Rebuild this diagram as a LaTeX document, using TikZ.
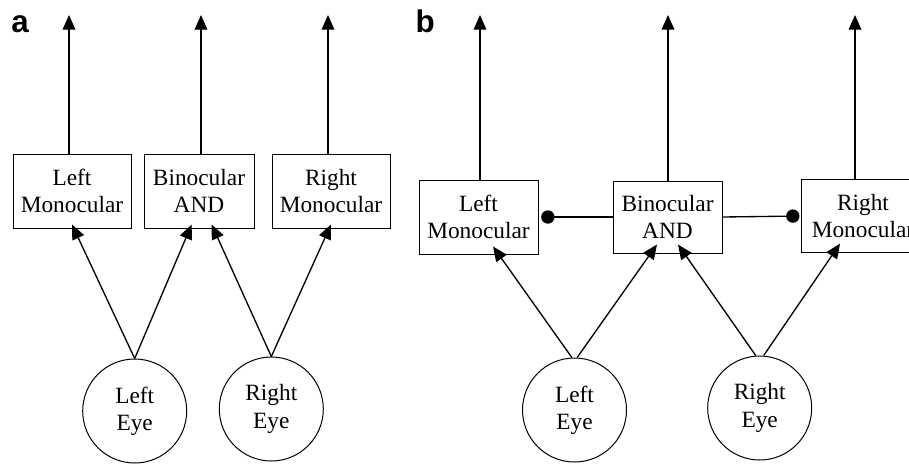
\documentclass[tikz,border=0pt]{standalone}
\usepackage{fontspec}
\setmainfont{Liberation Serif}
\setsansfont{Liberation Sans}
\usetikzlibrary{arrows.meta}

\tikzset{every picture/.style={line width=0.75pt}}
\tikzset{
	unit/.style={draw, line width=0.75pt, inner sep=0pt, align=center, font=\fontsize{17.5}{20.5}\selectfont},
	eye/.style={draw, circle, line width=0.75pt, minimum size=78pt, inner sep=0pt, align=center, font=\fontsize{17.5}{20.5}\selectfont},
	arr/.style={line width=1pt, -{Triangle[length=11pt,width=9.5pt]}},
	inh/.style={line width=1pt, -{Circle[length=10pt]}},
	panel/.style={font=\sffamily\bfseries\fontsize{23.5}{27}\selectfont, anchor=base}
}

\begin{document}
\begin{tikzpicture}[x=0.75pt,y=0.75pt,yscale=-1,xscale=1]
	\clip (0,0) rectangle (909,464);

	%Panel a
	\node[panel] (labA) at (20,32) {a};
	\node[unit, minimum width=88.5pt, minimum height=55.5pt] (lmA) at (72,191) {Left\\Monocular};
	\node[unit, minimum width=82.5pt, minimum height=55.5pt] (binA) at (199,191) {Binocular\\AND};
	\node[unit, minimum width=88.5pt, minimum height=55.5pt] (rmA) at (331,191) {Right\\Monocular};
	\node[eye] (leA) at (134.7,411) {Left\\Eye};
	\node[eye] (reA) at (271.3,409) {Right\\Eye};
	\coordinate (outA1) at (69,15);
	\coordinate (outA2) at (201,15);
	\coordinate (outA3) at (328,15);

	%outputs
	\draw[arr] (outA1 |- lmA.north) -- (outA1);
	\draw[arr] (outA2 |- binA.north) -- (outA2);
	\draw[arr] (outA3 |- rmA.north) -- (outA3);
	%eye inputs
	\draw[arr] (leA.north) -- ([yshift=-3pt]lmA.south);
	\draw[arr] (leA.north) -- ([xshift=-5.5pt,yshift=-3pt]binA.south);
	\draw[arr] (reA.north) -- ([xshift=9.5pt,yshift=-3pt]binA.south);
	\draw[arr] (reA.north) -- ([yshift=-3pt]rmA.south);

	%Panel b
	\node[panel] (labB) at (425.3,32) {b};
	\node[unit, minimum width=89.25pt, minimum height=55.5pt] (lmB) at (478.5,217) {Left\\Monocular};
	\node[unit, minimum width=81.75pt, minimum height=54pt] (binB) at (667.5,217) {Binocular\\AND};
	\node[unit, minimum width=93pt, minimum height=54.75pt] (rmB) at (863,216) {Right\\Monocular};
	\node[eye] (leB) at (574.5,410) {Left\\Eye};
	\node[eye] (reB) at (759.7,408) {Right\\Eye};
	\coordinate (outB1) at (480,15);
	\coordinate (outB2) at (668,15);
	\coordinate (outB3) at (855,15);

	%outputs
	\draw[arr] (outB1 |- lmB.north) -- (outB1);
	\draw[arr] (outB2 |- binB.north) -- (outB2);
	\draw[arr] (outB3 |- rmB.north) -- (outB3);
	%inhibition
	\draw[inh, shorten >=2pt] (binB.west) -- (lmB.east);
	\draw[inh, shorten >=0.75pt] (binB.east) -- (rmB.west);
	%eye inputs
	\draw[arr] ([xshift=-2pt]leB.north) -- ([xshift=10.9pt,yshift=-6pt]lmB.south);
	\draw[arr] ([xshift=2pt]leB.north) -- ([xshift=-7.9pt,yshift=-6.75pt]binB.south);
	\draw[arr] ([xshift=-3pt]reB.north) -- ([xshift=7.9pt,yshift=-6.75pt]binB.south);
	\draw[arr] ([xshift=3pt]reB.north) -- ([xshift=-17.25pt,yshift=-7pt]rmB.south);
\end{tikzpicture}
\end{document}
